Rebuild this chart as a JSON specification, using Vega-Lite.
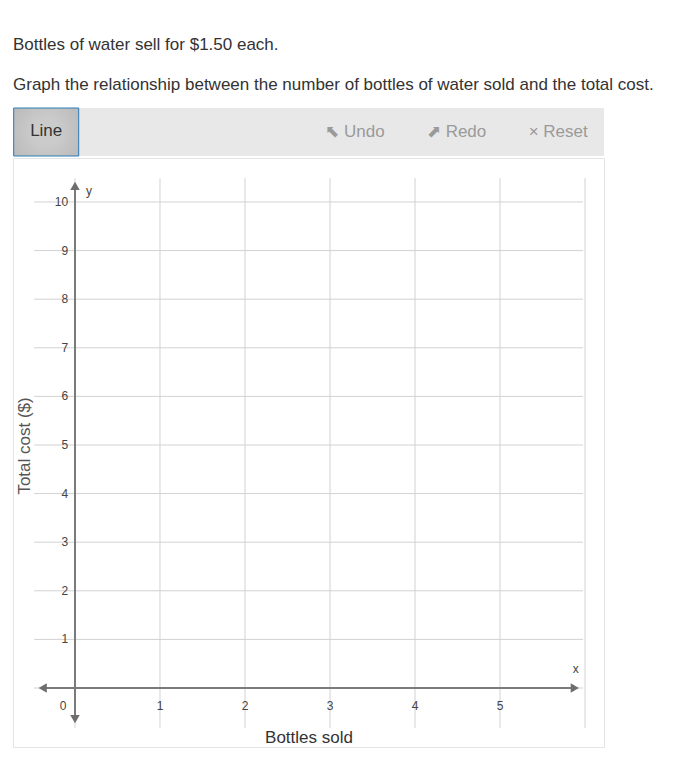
{
  "$schema": "https://vega.github.io/schema/vega-lite/v6.json",
  "padding": {"top": 35, "left": 12, "right": 0, "bottom": 0},
  "background": "white",
  "title": {
    "text": ["Bottles of water sell for $1.50 each.", "Graph the relationship between the number of bottles of water sold and the total cost."],
    "anchor": "start",
    "frame": "group",
    "font": "Liberation Sans",
    "fontSize": 17,
    "fontWeight": "normal",
    "color": "#333333",
    "lineHeight": 40,
    "offset": 14
  },
  "spacing": 0,
  "config": {"font": "Liberation Sans"},
  "vconcat": [
    {
      "width": 591,
      "height": 48,
      "view": {"fill": "#e8e8e8", "stroke": null},
      "data": {"values": [
        {"slot": "Line", "label": "Line", "kind": "button"},
        {"slot": "s1", "label": "", "kind": "blank"},
        {"slot": "s2", "label": "", "kind": "blank"},
        {"slot": "Undo", "label": "⬉ Undo", "kind": "action"},
        {"slot": "Redo", "label": "⬈ Redo", "kind": "action"},
        {"slot": "Reset", "label": "× Reset", "kind": "action"}
      ]},
      "layer": [
        {
          "transform": [{"filter": "datum.kind === 'button'"}],
          "mark": {"type": "bar", "width": 65, "stroke": "#2a7ab8", "strokeWidth": 1, "dx": -1,
            "fill": {"gradient": "radial", "x1": 0.5, "y1": 0.5, "r1": 0.2, "x2": 0.5, "y2": 0.5, "r2": 0.75,
              "stops": [{"offset": 0, "color": "#cbcbcb"}, {"offset": 1, "color": "#b4b4b4"}]}},
          "encoding": {
            "x": {"field": "slot", "type": "nominal", "sort": null, "axis": null,
              "scale": {"type": "point", "domain": ["Line", "s1", "s2", "Undo", "Redo", "Reset"], "padding": 0.4085, "align": 0.40}}
          }
        },
        {
          "transform": [{"filter": "datum.kind === 'button'"}],
          "mark": {"type": "text", "fontSize": 17, "color": "#333333", "baseline": "middle", "dy": -1},
          "encoding": {
            "x": {"field": "slot", "type": "nominal", "sort": null, "axis": null,
              "scale": {"type": "point", "domain": ["Line", "s1", "s2", "Undo", "Redo", "Reset"], "padding": 0.4085, "align": 0.40}},
            "text": {"field": "label"}
          }
        },
        {
          "transform": [{"filter": "datum.kind === 'action'"}],
          "mark": {"type": "text", "fontSize": 17, "color": "#9a9a9a", "baseline": "middle", "dx": 4},
          "encoding": {
            "x": {"field": "slot", "type": "nominal", "sort": null, "axis": null,
              "scale": {"type": "point", "domain": ["Line", "s1", "s2", "Undo", "Redo", "Reset"], "padding": 0.4085, "align": 0.40}},
            "text": {"field": "label"}
          }
        }
      ]
    },
    {
      "width": 591,
      "height": 589,
      "view": {"fill": "white", "stroke": "#e4e4e4"},
      "layer": [
        {
          "data": {"values": [{"v": 0}, {"v": 1}, {"v": 2}, {"v": 3}, {"v": 4}, {"v": 5}, {"v": 6}, {"v": 7}, {"v": 8}, {"v": 9}, {"v": 10}]},
          "mark": {"type": "rule", "color": "#d2d2d2", "strokeWidth": 1},
          "encoding": {
            "y": {"field": "v", "type": "quantitative", "axis": null, "scale": {"domain": [-1.214, 10.905], "nice": false, "zero": false}},
            "x": {"datum": -0.48, "type": "quantitative", "axis": null, "scale": {"domain": [-0.7294, 6.2235], "nice": false, "zero": false}},
            "x2": {"datum": 5.976}
          }
        },
        {
          "data": {"values": [{"v": 0}, {"v": 1}, {"v": 2}, {"v": 3}, {"v": 4}, {"v": 5}, {"v": 6}]},
          "mark": {"type": "rule", "color": "#d2d2d2", "strokeWidth": 1},
          "encoding": {
            "x": {"field": "v", "type": "quantitative", "axis": null, "scale": {"domain": [-0.7294, 6.2235], "nice": false, "zero": false}},
            "y": {"datum": -0.82, "type": "quantitative", "axis": null, "scale": {"domain": [-1.214, 10.905], "nice": false, "zero": false}},
            "y2": {"datum": 10.49}
          }
        },
        {
          "data": {"values": [{}]},
          "mark": {"type": "rule", "color": "#7a7a7a", "strokeWidth": 2},
          "encoding": {
            "x": {"datum": -0.38, "type": "quantitative", "axis": null, "scale": {"domain": [-0.7294, 6.2235], "nice": false, "zero": false}},
            "x2": {"datum": 5.88},
            "y": {"datum": 0, "type": "quantitative", "axis": null, "scale": {"domain": [-1.214, 10.905], "nice": false, "zero": false}}
          }
        },
        {
          "data": {"values": [{}]},
          "mark": {"type": "rule", "color": "#7a7a7a", "strokeWidth": 2},
          "encoding": {
            "x": {"datum": 0, "type": "quantitative", "axis": null, "scale": {"domain": [-0.7294, 6.2235], "nice": false, "zero": false}},
            "y": {"datum": -0.64, "type": "quantitative", "axis": null, "scale": {"domain": [-1.214, 10.905], "nice": false, "zero": false}},
            "y2": {"datum": 10.33}
          }
        },
        {
          "data": {"values": [{}]},
          "mark": {"type": "point", "shape": "triangle-left", "filled": true, "size": 90, "color": "#6e6e6e", "opacity": 1},
          "encoding": {
            "x": {"datum": -0.38, "type": "quantitative", "axis": null, "scale": {"domain": [-0.7294, 6.2235], "nice": false, "zero": false}},
            "y": {"datum": 0, "type": "quantitative", "axis": null, "scale": {"domain": [-1.214, 10.905], "nice": false, "zero": false}}
          }
        },
        {
          "data": {"values": [{}]},
          "mark": {"type": "point", "shape": "triangle-right", "filled": true, "size": 90, "color": "#6e6e6e", "opacity": 1},
          "encoding": {
            "x": {"datum": 5.88, "type": "quantitative", "axis": null, "scale": {"domain": [-0.7294, 6.2235], "nice": false, "zero": false}},
            "y": {"datum": 0, "type": "quantitative", "axis": null, "scale": {"domain": [-1.214, 10.905], "nice": false, "zero": false}}
          }
        },
        {
          "data": {"values": [{}]},
          "mark": {"type": "point", "shape": "triangle-up", "filled": true, "size": 90, "color": "#6e6e6e", "opacity": 1},
          "encoding": {
            "x": {"datum": 0, "type": "quantitative", "axis": null, "scale": {"domain": [-0.7294, 6.2235], "nice": false, "zero": false}},
            "y": {"datum": 10.33, "type": "quantitative", "axis": null, "scale": {"domain": [-1.214, 10.905], "nice": false, "zero": false}}
          }
        },
        {
          "data": {"values": [{}]},
          "mark": {"type": "point", "shape": "triangle-down", "filled": true, "size": 90, "color": "#6e6e6e", "opacity": 1},
          "encoding": {
            "x": {"datum": 0, "type": "quantitative", "axis": null, "scale": {"domain": [-0.7294, 6.2235], "nice": false, "zero": false}},
            "y": {"datum": -0.64, "type": "quantitative", "axis": null, "scale": {"domain": [-1.214, 10.905], "nice": false, "zero": false}}
          }
        },
        {
          "data": {"values": [{"v": 1}, {"v": 2}, {"v": 3}, {"v": 4}, {"v": 5}]},
          "mark": {"type": "text", "fontSize": 12, "color": "#444444", "baseline": "middle", "align": "center"},
          "encoding": {
            "x": {"field": "v", "type": "quantitative", "axis": null, "scale": {"domain": [-0.7294, 6.2235], "nice": false, "zero": false}},
            "y": {"datum": -0.37, "type": "quantitative", "axis": null, "scale": {"domain": [-1.214, 10.905], "nice": false, "zero": false}},
            "text": {"field": "v"}
          }
        },
        {
          "data": {"values": [{"v": 0}]},
          "mark": {"type": "text", "fontSize": 12, "color": "#444444", "baseline": "middle", "align": "center", "dx": -12},
          "encoding": {
            "x": {"field": "v", "type": "quantitative", "axis": null, "scale": {"domain": [-0.7294, 6.2235], "nice": false, "zero": false}},
            "y": {"datum": -0.37, "type": "quantitative", "axis": null, "scale": {"domain": [-1.214, 10.905], "nice": false, "zero": false}},
            "text": {"field": "v"}
          }
        },
        {
          "data": {"values": [{"v": 1}, {"v": 2}, {"v": 3}, {"v": 4}, {"v": 5}, {"v": 6}, {"v": 7}, {"v": 8}, {"v": 9}, {"v": 10}]},
          "mark": {"type": "text", "fontSize": 12, "color": "#444444", "baseline": "middle", "align": "right"},
          "encoding": {
            "y": {"field": "v", "type": "quantitative", "axis": null, "scale": {"domain": [-1.214, 10.905], "nice": false, "zero": false}},
            "x": {"datum": -0.08, "type": "quantitative", "axis": null, "scale": {"domain": [-0.7294, 6.2235], "nice": false, "zero": false}},
            "text": {"field": "v"}
          }
        },
        {
          "data": {"values": [{"name": "y"}]},
          "mark": {"type": "text", "fontSize": 12, "color": "#444444", "baseline": "middle", "align": "center"},
          "encoding": {
            "x": {"datum": 0.165, "type": "quantitative", "axis": null, "scale": {"domain": [-0.7294, 6.2235], "nice": false, "zero": false}},
            "y": {"datum": 10.23, "type": "quantitative", "axis": null, "scale": {"domain": [-1.214, 10.905], "nice": false, "zero": false}},
            "text": {"field": "name"}
          }
        },
        {
          "data": {"values": [{"name": "x"}]},
          "mark": {"type": "text", "fontSize": 12, "color": "#444444", "baseline": "middle", "align": "center"},
          "encoding": {
            "x": {"datum": 5.89, "type": "quantitative", "axis": null, "scale": {"domain": [-0.7294, 6.2235], "nice": false, "zero": false}},
            "y": {"datum": 0.39, "type": "quantitative", "axis": null, "scale": {"domain": [-1.214, 10.905], "nice": false, "zero": false}},
            "text": {"field": "name"}
          }
        },
        {
          "data": {"values": [{"name": "Total cost ($)"}]},
          "mark": {"type": "text", "fontSize": 17, "color": "#555555", "baseline": "middle", "align": "center", "angle": 270},
          "encoding": {
            "x": {"datum": -0.588, "type": "quantitative", "axis": null, "scale": {"domain": [-0.7294, 6.2235], "nice": false, "zero": false}},
            "y": {"datum": 4.98, "type": "quantitative", "axis": null, "scale": {"domain": [-1.214, 10.905], "nice": false, "zero": false}},
            "text": {"field": "name"}
          }
        },
        {
          "data": {"values": [{"name": "Bottles sold"}]},
          "mark": {"type": "text", "fontSize": 17, "color": "#333333", "baseline": "middle", "align": "center"},
          "encoding": {
            "x": {"datum": 2.753, "type": "quantitative", "axis": null, "scale": {"domain": [-0.7294, 6.2235], "nice": false, "zero": false}},
            "y": {"datum": -1.03, "type": "quantitative", "axis": null, "scale": {"domain": [-1.214, 10.905], "nice": false, "zero": false}},
            "text": {"field": "name"}
          }
        }
      ]
    }
  ]
}
